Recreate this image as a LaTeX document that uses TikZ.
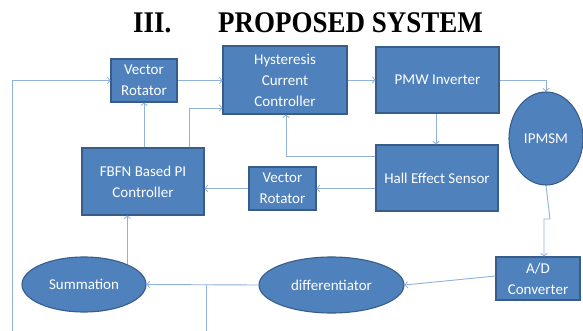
\documentclass[tikz,border=0pt]{standalone}
\usepackage{fontspec}
\setmainfont{Carlito}
\newfontfamily\titlefont{Liberation Serif}
\usetikzlibrary{shapes.geometric,arrows.meta,calc}
\definecolor{boxfill}{HTML}{4F81BD}
\definecolor{boxedge}{HTML}{385D8A}
\definecolor{wire}{HTML}{8FB1DA}
\tikzset{
  blk/.style={draw=boxedge,line width=1.1pt,fill=boxfill,text=white,rectangle,inner sep=0pt,
    align=center,font=\fontsize{15}{21}\selectfont},
  oval/.style={draw=boxedge,line width=1.1pt,fill=boxfill,text=white,ellipse,inner sep=0pt,
    align=center,font=\fontsize{15}{21}\selectfont},
  wireline/.style={draw=wire,line width=0.9pt},
  arr/.style={wireline,-{Straight Barb[length=2.6pt,width=6.5pt,line width=0.8pt]}},
  ttl/.style={font=\titlefont\bfseries\fontsize{30}{34}\selectfont,xscale=0.9,inner sep=0pt,anchor=base west}
}
\begin{document}
\begin{tikzpicture}[x=1pt,y=-1pt]
\useasboundingbox[fill=white] (0,0) rectangle (583,331);
% title
\node[ttl] (t1) at (133,33) {III.};
\node[ttl] (t2) at (218,33) {PROPOSED SYSTEM};
% blocks
\node[blk,minimum width=66pt,minimum height=43pt] (vr1) at (144,80.5) {Vector\\Rotator};
\node[blk,minimum width=124pt,minimum height=68pt] (hcc) at (285,80) {Hysteresis\\Current\\Controller};
\node[blk,minimum width=123pt,minimum height=66pt] (pmw) at (437.5,80) {PMW Inverter};
\node[oval,minimum width=74pt,minimum height=93pt] (ipm) at (546,138.5) {IPMSM};
\node[blk,minimum width=122pt,minimum height=66pt] (hall) at (437,178) {Hall Effect Sensor};
\node[blk,minimum width=67pt,minimum height=43pt] (vr2) at (282.5,188.5) {Vector\\Rotator};
\node[blk,minimum width=122pt,minimum height=67pt] (fbfn) at (143,181.5) {FBFN Based PI\\Controller};
\node[oval,minimum width=124pt,minimum height=55pt] (sum) at (84,284.5) {Summation};
\node[oval,minimum width=145pt,minimum height=56pt] (diff) at (331.5,285) {differentiator};
\node[blk,minimum width=84pt,minimum height=43pt] (ad) at (538,278.5) {A/D\\Converter};
% free ends
\coordinate (lbot) at (12,331);
\coordinate (bbot) at (206,331);
\coordinate (jog1) at (550,219);
\coordinate (jog2) at (544,219);
% connectors
\draw[arr] (lbot) |- (vr1.west);
\draw[arr] (vr1.east) -- (vr1.east -| hcc.west);
\draw[arr] (vr1.south |- fbfn.north) -- (vr1.south);
\draw[arr] ([xshift=46pt]fbfn.north) |- ([yshift=-28pt]hcc.west);
\draw[arr] (hcc.east) -- (hcc.east -| pmw.west);
\draw[arr] (pmw.east) -| (ipm.north);
\draw[arr] ([xshift=-1.5pt]pmw.south) -- ([xshift=-1.5pt]pmw.south |- hall.north);
\draw[arr] ([yshift=22pt]hall.west) -| ([xshift=1pt]hcc.south);
\draw[arr] (vr2.east -| hall.west) -- (vr2.east);
\draw[arr] (vr2.west) -- (vr2.west -| fbfn.east);
\draw[arr] (ipm.south) -- (jog1) -- (jog2) -- (jog2 |- ad.north);
\draw[arr] ([yshift=2.5pt]ad.west) -- (diff.east);
\draw[arr] (diff.west) -- (sum.east);
\draw[wireline] (bbot) -- (bbot |- diff.west);
\draw[arr] (sum.25) -- (sum.25 |- fbfn.south);
\end{tikzpicture}
\end{document}
